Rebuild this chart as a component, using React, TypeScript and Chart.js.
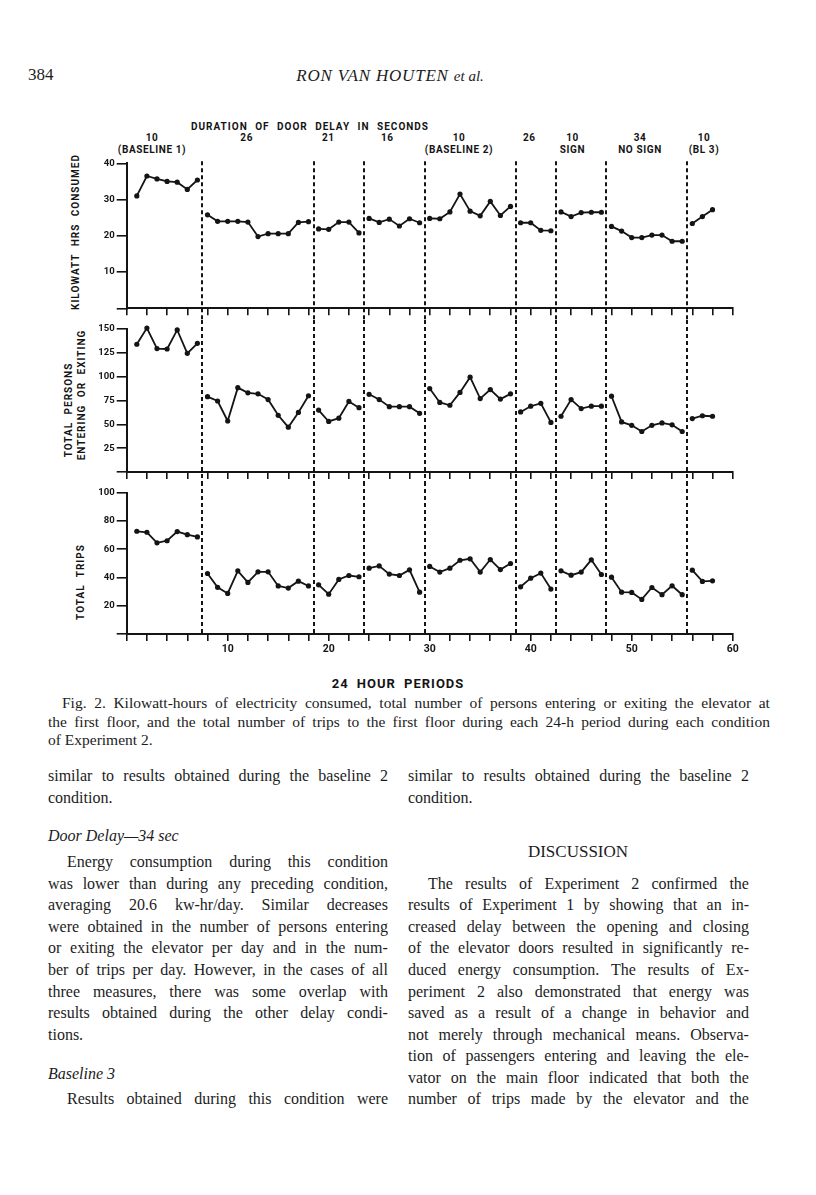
import React, { useEffect, useRef } from "react";
import { Chart, registerables } from "chart.js";
Chart.register(...registerables);

// ---------- DATA ----------
const days = [1,2,3,4,5,6,7,8,9,10,11,12,13,14,15,16,17,18,19,20,21,22,23,24,25,26,27,28,29,30,31,32,33,34,35,36,37,38,39,40,41,42,43,44,45,46,47,48,49,50,51,52,53,54,55,56,57,58];
const phaseBreaks = [7.5, 18.5, 23.5, 29.5, 38.5, 42.5, 47.5, 55.5];
const phaseTop = ["10", "26", "21", "16", "10", "26", "10", "34", "10"];
const phaseBottom = ["(BASELINE 1)", "", "", "", "(BASELINE 2)", "", "SIGN", "NO SIGN", "(BL 3)"];

const kwh = [
  31, 36.5, 35.7, 35, 34.8, 32.8, 35.4,
  25.8, 24, 24, 24, 23.8, 19.8, 20.6, 20.6, 20.6, 23.7, 23.9,
  21.9, 21.8, 23.8, 23.8, 20.8,
  24.8, 23.7, 24.6, 22.7, 24.7, 23.6,
  24.8, 24.7, 26.6, 31.5, 26.8, 25.5, 29.5, 25.6, 28.1,
  23.6, 23.6, 21.5, 21.4,
  26.6, 25.3, 26.4, 26.5, 26.5,
  22.6, 21.3, 19.5, 19.5, 20.2, 20.2, 18.5, 18.5,
  23.4, 25.3, 27.2,
];
const persons = [
  134, 151, 129.5, 129, 149, 124.5, 135,
  79, 74.5, 53.5, 88.5, 83, 82, 76, 59.5, 47, 62.5, 80,
  65, 53, 56.5, 74, 67.5,
  81.5, 76, 68.5, 68.5, 68.5, 61.5,
  87.5, 73, 70, 83.5, 99.5, 77, 86.5, 76.5, 82,
  63, 69, 72, 52,
  58.5, 76, 66.5, 69, 69,
  79.5, 52.5, 49, 42.5, 49, 51.5, 49.5, 42.5,
  56, 59, 58.5,
];
const trips = [
  72.7, 72, 64.5, 66, 72.5, 70.3, 68.7,
  42.8, 33, 28.7, 44.7, 36.5, 44, 44, 34, 32.5, 37.4, 34,
  34.8, 28.2, 38.6, 41.4, 40.5,
  46.6, 48.2, 42.4, 41.4, 45.4, 29.6,
  47.8, 43.8, 46.6, 52.2, 53.2, 43.8, 52.7, 45.6, 49.9,
  33.4, 39.5, 43.1, 31.8,
  44.7, 41.6, 43.8, 52.5, 42.1,
  40.2, 29.6, 29.4, 24.5, 32.9, 27.8, 34.1, 27.8,
  45.2, 37.2, 37.6,
];
const kwhAxis = { min: 0, max: 40, step: 10 };
const personsAxis = { min: 0, max: 150, step: 25 };
const tripsAxis = { min: 0, max: 100, step: 20 };
const xAxis = { min: 0, max: 60, step: 2, labelEvery: 10 };

// ---------- STYLE / LAYOUT ----------
const INK = "#141414";
const SANS = "Roboto, 'Open Sans', sans-serif";
const SERIF = "'Liberation Serif', 'DejaVu Serif', serif";
const CANVAS_LEFT = 20;
const CANVAS_W = 740;
const Y_AXIS_W = 106.7;
const PAD_R = 27.3;

const crosses = (a: number, b: number) => phaseBreaks.some((p) => (a - p) * (b - p) < 0);

const phaseLinePlugin = {
  id: "phaseLines",
  afterDatasetsDraw(chart: any, _args: any, opts: any) {
    const { ctx, chartArea } = chart;
    const x = chart.scales.x;
    const y0 = opts.fromTop ? chartArea.top - 2 : 0;
    const y1 = opts.toBottom ? chartArea.bottom + 2 : chart.height;
    ctx.save();
    ctx.strokeStyle = INK;
    ctx.lineWidth = 2;
    ctx.setLineDash([4, 3]);
    phaseBreaks.forEach((b) => {
      const px = Math.round(x.getPixelForValue(b));
      ctx.beginPath();
      ctx.moveTo(px, y0);
      ctx.lineTo(px, y1);
      ctx.stroke();
    });
    ctx.restore();
  },
};

type PanelProps = {
  top: number;
  height: number;
  padT: number;
  padB: number;
  xH: number;
  values: number[];
  axis: { min: number; max: number; step: number };
  showXLabels: boolean;
  fromTop: boolean;
  toBottom: boolean;
};

function Panel(p: PanelProps) {
  const ref = useRef<HTMLCanvasElement | null>(null);
  useEffect(() => {
    if (!ref.current) return;
    const tickFont = { family: SANS, weight: "bold" as const, size: 9.5 };
    const chart = new Chart(ref.current, {
      type: "line",
      data: {
        datasets: [
          {
            data: days.map((d, i) => ({ x: d, y: p.values[i] })),
            borderColor: INK,
            borderWidth: 1.8,
            pointRadius: 2.6,
            pointBackgroundColor: INK,
            pointBorderWidth: 0,
            tension: 0,
            clip: false as any,
            segment: {
              borderColor: (ctx: any) =>
                crosses(ctx.p0.parsed.x, ctx.p1.parsed.x) ? "rgba(0,0,0,0)" : INK,
            },
          },
        ],
      },
      options: {
        animation: false,
        responsive: false,
        maintainAspectRatio: false,
        devicePixelRatio: 1,
        events: [],
        layout: { padding: { left: 0, right: PAD_R, top: p.padT, bottom: p.padB } },
        plugins: {
          legend: { display: false },
          tooltip: { enabled: false },
          phaseLines: { fromTop: p.fromTop, toBottom: p.toBottom },
        } as any,
        scales: {
          x: {
            type: "linear",
            min: xAxis.min,
            max: xAxis.max,
            ticks: {
              stepSize: xAxis.step,
              autoSkip: false,
              maxRotation: 0,
              padding: 2,
              color: INK,
              font: { family: SANS, weight: "bold", size: 10.5 },
              callback: (v: any) =>
                p.showXLabels && v % xAxis.labelEvery === 0 && v !== 0 ? String(v) : "",
            },
            grid: { drawOnChartArea: false, drawTicks: true, tickLength: 7, color: INK, lineWidth: 1.6 },
            border: { display: true, color: INK, width: 2 },
            afterFit: (s: any) => {
              s.height = p.xH;
              s.paddingLeft = 0;
              s.paddingRight = 0;
            },
          },
          y: {
            min: p.axis.min,
            max: p.axis.max,
            ticks: {
              stepSize: p.axis.step,
              padding: 2,
              color: INK,
              font: tickFont,
              callback: (v: any) => (v === 0 ? "" : String(v)),
            },
            grid: { drawOnChartArea: false, drawTicks: true, tickLength: 10, color: INK, lineWidth: 1.6 },
            border: { display: true, color: INK, width: 2 },
            afterFit: (s: any) => {
              s.width = Y_AXIS_W;
              s.paddingTop = 0;
              s.paddingBottom = 0;
            },
          },
        },
      },
      plugins: [phaseLinePlugin],
    });
    return () => chart.destroy();
  }, []);
  return (
    <canvas
      ref={ref}
      width={CANVAS_W}
      height={p.height}
      style={{ position: "absolute", left: CANVAS_LEFT, top: p.top, width: CANVAS_W, height: p.height }}
    />
  );
}

// ---------- TEXT HELPERS ----------
function Abs(props: { x: number; y: number; children: any; style?: any; center?: boolean }) {
  return (
    <div
      style={{
        position: "absolute",
        left: props.x,
        top: props.y,
        transform: props.center ? "translate(-50%, -50%)" : "translateY(-50%)",
        whiteSpace: "nowrap",
        ...props.style,
      }}
    >
      {props.children}
    </div>
  );
}

function JLine(props: { x: number; y: number; w: number; text: string; size: number; indent?: number; last?: boolean; italic?: boolean }) {
  const words = props.text.split(" ");
  return (
    <div
      style={{
        position: "absolute",
        left: props.x,
        top: props.y,
        width: props.w,
        transform: "translateY(-50%)",
        fontFamily: SERIF,
        fontSize: props.size,
        fontStyle: props.italic ? "italic" : "normal",
        color: "#1c1c1c",
        display: "flex",
        justifyContent: props.last ? "flex-start" : "space-between",
        paddingLeft: props.indent || 0,
        boxSizing: "border-box",
        whiteSpace: "nowrap",
        lineHeight: "20px",
        gap: props.last ? "0.25em" : 0,
      }}
    >
      {words.map((w, i) => (
        <span key={i}>{w}</span>
      ))}
    </div>
  );
}

const chartLabel = { fontFamily: SANS, fontWeight: 700, fontSize: 10, color: INK, letterSpacing: "0.6px" };

const phaseCenters = [152, 246.7, 328.3, 387.3, 459, 529.3, 572.5, 640, 704];

const leftCol: [number, string, boolean, boolean][] = [
  [0, "similar to results obtained during the baseline 2", false, false],
  [1, "condition.", true, false],
  [4, "Energy consumption during this condition", false, true],
  [5, "was lower than during any preceding condition,", false, false],
  [6, "averaging 20.6 kw-hr/day. Similar decreases", false, false],
  [7, "were obtained in the number of persons entering", false, false],
  [8, "or exiting the elevator per day and in the num-", false, false],
  [9, "ber of trips per day. However, in the cases of all", false, false],
  [10, "three measures, there was some overlap with", false, false],
  [11, "results obtained during the other delay condi-", false, false],
  [12, "tions.", true, false],
  [15, "Results obtained during this condition were", false, true],
];
const rightCol: [number, string, boolean, boolean][] = [
  [0, "similar to results obtained during the baseline 2", false, false],
  [1, "condition.", true, false],
  [5, "The results of Experiment 2 confirmed the", false, true],
  [6, "results of Experiment 1 by showing that an in-", false, false],
  [7, "creased delay between the opening and closing", false, false],
  [8, "of the elevator doors resulted in significantly re-", false, false],
  [9, "duced energy consumption. The results of Ex-", false, false],
  [10, "periment 2 also demonstrated that energy was", false, false],
  [11, "saved as a result of a change in behavior and", false, false],
  [12, "not merely through mechanical means. Observa-", false, false],
  [13, "tion of passengers entering and leaving the ele-", false, false],
  [14, "vator on the main floor indicated that both the", false, false],
  [15, "number of trips made by the elevator and the", false, false],
];
const LINE0 = 776;
const LSTEP = 21.55;
const BODY = 16;
const CAP = 15.5;

export default function App() {
  return (
    <div style={{ position: "absolute", left: 0, top: 0, width: 816, height: 1195, background: "#fff", overflow: "hidden" }}>
      {/* running head */}
      <Abs x={28} y={75} style={{ fontFamily: SERIF, fontSize: 17, color: "#1c1c1c" }}>384</Abs>
      <Abs x={390} y={76} center style={{ fontFamily: SERIF, fontSize: 17, fontStyle: "italic", letterSpacing: "0.8px", color: "#1c1c1c" }}>
        RON VAN HOUTEN <span style={{ fontSize: 15, letterSpacing: 0 }}>et al.</span>
      </Abs>

      {/* chart header */}
      <Abs x={310} y={126} center style={{ ...chartLabel, letterSpacing: "1px", wordSpacing: "4px" }}>
        DURATION OF DOOR DELAY IN SECONDS
      </Abs>
      {phaseCenters.map((cx, i) => (
        <React.Fragment key={i}>
          <Abs x={cx} y={137} center style={chartLabel}>{phaseTop[i]}</Abs>
          {phaseBottom[i] ? (
            <Abs x={cx} y={149} center style={chartLabel}>{phaseBottom[i]}</Abs>
          ) : null}
        </React.Fragment>
      ))}

      {/* axis titles */}
      <Abs x={75} y={232} center style={{ ...chartLabel, letterSpacing: "1px", wordSpacing: "4px", transform: "translate(-50%, -50%) rotate(-90deg)" }}>
        KILOWATT HRS CONSUMED
      </Abs>
      <Abs x={67.5} y={410} center style={{ ...chartLabel, letterSpacing: "1px", wordSpacing: "4px", transform: "translate(-50%, -50%) rotate(-90deg)" }}>
        TOTAL PERSONS
      </Abs>
      <Abs x={81} y={395} center style={{ ...chartLabel, letterSpacing: "1px", wordSpacing: "4px", transform: "translate(-50%, -50%) rotate(-90deg)" }}>
        ENTERING OR EXITING
      </Abs>
      <Abs x={80} y={582} center style={{ ...chartLabel, letterSpacing: "1px", wordSpacing: "4px", transform: "translate(-50%, -50%) rotate(-90deg)" }}>
        TOTAL TRIPS
      </Abs>

      <Panel top={150} height={170} padT={13.3} padB={1.7} xH={10} values={kwh} axis={kwhAxis} showXLabels={false} fromTop={true} toBottom={false} />
      <Panel top={320} height={162} padT={9} padB={0} xH={10} values={persons} axis={personsAxis} showXLabels={false} fromTop={false} toBottom={false} />
      <Panel top={482} height={183} padT={10.7} padB={5} xH={26} values={trips} axis={tripsAxis} showXLabels={true} fromTop={false} toBottom={true} />

      <Abs x={398} y={683} center style={{ ...chartLabel, fontSize: 13, letterSpacing: "1px", wordSpacing: "4px" }}>
        24 HOUR PERIODS
      </Abs>

      {/* caption */}
      <JLine x={48} y={703} w={722} indent={14} size={CAP} text="Fig. 2. Kilowatt-hours of electricity consumed, total number of persons entering or exiting the elevator at" />
      <JLine x={48} y={721.5} w={722} size={CAP} text="the first floor, and the total number of trips to the first floor during each 24-h period during each condition" />
      <JLine x={48} y={740} w={722} size={CAP} last text="of Experiment 2." />

      {/* left column */}
      {leftCol.map(([k, t, last, ind], i) => (
        <JLine key={"l" + i} x={48} y={LINE0 + k * LSTEP} w={340} size={BODY} text={t} last={last} indent={ind ? 19 : 0} />
      ))}
      <JLine x={48} y={836} w={340} size={BODY} italic last text="Door Delay—34 sec" />
      <JLine x={48} y={1074} w={340} size={BODY} italic last text="Baseline 3" />

      {/* right column */}
      {rightCol.map(([k, t, last, ind], i) => (
        <JLine key={"r" + i} x={408} y={LINE0 + k * LSTEP} w={341} size={BODY} text={t} last={last} indent={ind ? 20 : 0} />
      ))}
      <Abs x={578} y={852} center style={{ fontFamily: SERIF, fontSize: 17, color: "#1c1c1c" }}>DISCUSSION</Abs>
    </div>
  );
}
